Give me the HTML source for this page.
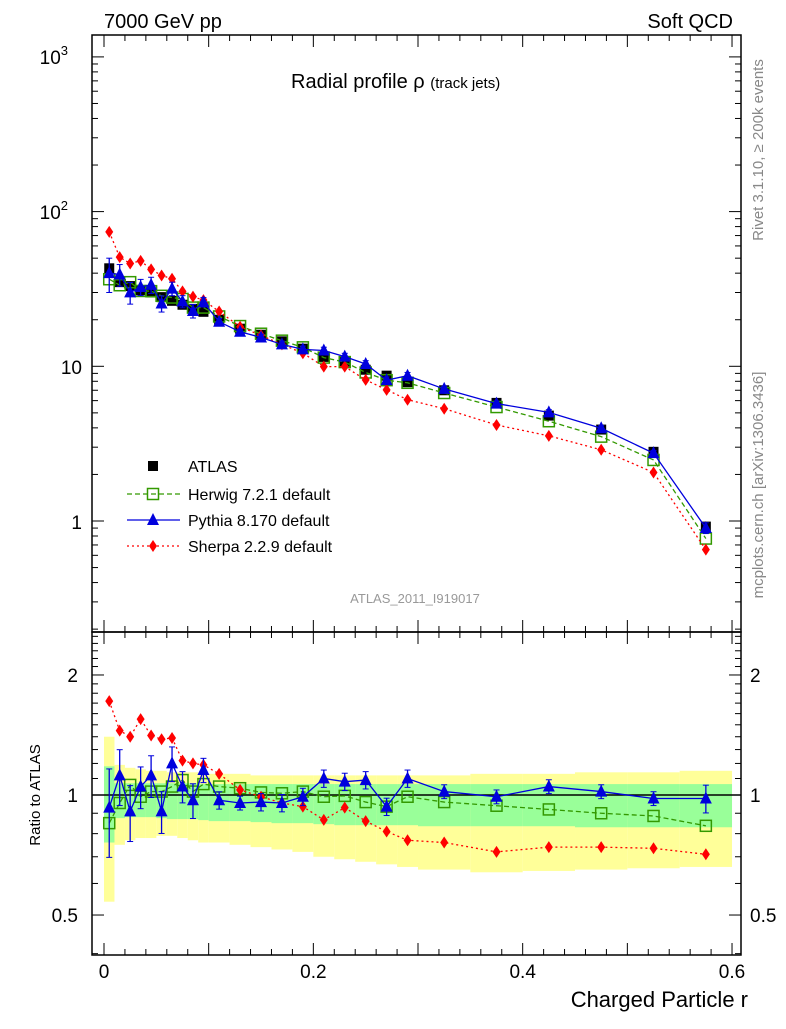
<!DOCTYPE html>
<html><head><meta charset="utf-8"><style>
body{margin:0;background:#fff}
svg text{font-family:"Liberation Sans",sans-serif}
</style></head><body>
<svg id="chart" width="786" height="1024" xmlns="http://www.w3.org/2000/svg">
<g id="bands"></g>
<g id="grid"></g>
<g id="series"></g>
<text x="104" y="28" font-size="20">7000 GeV pp</text>
<text x="733" y="28" font-size="20" text-anchor="end">Soft QCD</text>
<text x="291" y="88" font-size="20">Radial profile ρ <tspan font-size="15">(track jets)</tspan></text>
<text x="415" y="603" font-size="13" fill="#999" text-anchor="middle">ATLAS_2011_I919017</text>
<text x="748" y="1007" font-size="22" text-anchor="end">Charged Particle r</text>
<text transform="translate(40,795) rotate(-90)" font-size="15" text-anchor="middle">Ratio to ATLAS</text>
<text transform="translate(763,150) rotate(-90)" font-size="15" fill="#888" text-anchor="middle">Rivet 3.1.10, ≥ 200k events</text>
<text transform="translate(763,485) rotate(-90)" font-size="15" fill="#888" text-anchor="middle">mcplots.cern.ch [arXiv:1306.3436]</text>
<g id="legend"></g>
</svg>
<script>
const xCenters=[0.005,0.015,0.025,0.035,0.045,0.055,0.065,0.075,0.085,0.095,0.11,0.13,0.15,0.17,0.19,0.21,0.23,0.25,0.27,0.29,0.325,0.375,0.425,0.475,0.525,0.575];
const xLo=[0,0.01,0.02,0.03,0.04,0.05,0.06,0.07,0.08,0.09,0.1,0.12,0.14,0.16,0.18,0.2,0.22,0.24,0.26,0.28,0.3,0.35,0.4,0.45,0.5,0.55];
const xHi=[0.01,0.02,0.03,0.04,0.05,0.06,0.07,0.08,0.09,0.1,0.12,0.14,0.16,0.18,0.2,0.22,0.24,0.26,0.28,0.3,0.35,0.4,0.45,0.5,0.55,0.6];
const atlas=[43,35,33,31,30,28,26.5,25,23.5,22.5,20,17.5,16,14.5,13,11.5,10.7,9.5,8.7,7.9,7.0,5.8,4.8,3.9,2.8,0.92];
const herwigRatio=[0.85,0.955,1.06,0.99,1.02,1.02,1.05,1.09,1.02,1.065,1.05,1.04,1.015,1.01,1.02,0.99,0.995,0.96,0.935,0.99,0.96,0.94,0.92,0.90,0.886,0.837];
const pythiaRatio=[0.93,1.12,0.91,1.05,1.12,0.91,1.2,1.05,0.97,1.155,0.97,0.955,0.96,0.955,0.99,1.10,1.08,1.09,0.935,1.10,1.02,0.99,1.05,1.02,0.98,0.98];
const pythiaErr=[0.25,0.16,0.16,0.12,0.12,0.12,0.1,0.09,0.1,0.07,0.05,0.04,0.05,0.05,0.05,0.05,0.05,0.05,0.05,0.05,0.04,0.04,0.04,0.04,0.04,0.08];
const sherpaRatio=[1.72,1.45,1.40,1.55,1.41,1.38,1.39,1.22,1.20,1.19,1.13,1.03,0.99,0.955,0.935,0.866,0.93,0.86,0.81,0.77,0.76,0.72,0.74,0.74,0.735,0.71];
const yellowHi=[1.40,1.19,1.17,1.16,1.15,1.15,1.14,1.14,1.14,1.13,1.13,1.13,1.12,1.12,1.12,1.12,1.12,1.12,1.12,1.12,1.12,1.13,1.13,1.14,1.14,1.15];
const yellowLo=[0.54,0.75,0.77,0.78,0.78,0.79,0.79,0.78,0.77,0.76,0.76,0.75,0.74,0.73,0.72,0.70,0.69,0.68,0.67,0.66,0.65,0.64,0.645,0.65,0.655,0.66];
const greenHi=[1.18,1.07,1.07,1.07,1.07,1.07,1.07,1.07,1.07,1.065,1.065,1.065,1.065,1.065,1.065,1.065,1.065,1.065,1.065,1.065,1.065,1.065,1.065,1.065,1.065,1.065];
const greenLo=[0.76,0.875,0.88,0.88,0.88,0.875,0.87,0.87,0.87,0.865,0.86,0.86,0.855,0.85,0.85,0.845,0.84,0.84,0.84,0.84,0.835,0.835,0.835,0.83,0.83,0.83];
const xTicks=[0,0.2,0.4,0.6];

const NS="http://www.w3.org/2000/svg";
const X0=92,X1=741,MT=35,MB=632,RB=955;
const sx=v=>104+v*1046.7;
const sy=v=>521-Math.log10(v)*154.7;
const ry=v=>795-Math.log10(v)*398.7;
function mk(tag,attrs,parent){const e=document.createElementNS(NS,tag);for(const k in attrs)e.setAttribute(k,attrs[k]);parent.appendChild(e);return e;}
const bands=document.getElementById('bands'),grid=document.getElementById('grid'),ser=document.getElementById('series'),leg=document.getElementById('legend');

for(let i=0;i<xCenters.length;i++){
  let r=mk('rect',{x:sx(xLo[i]),y:ry(yellowHi[i]),width:sx(xHi[i])-sx(xLo[i]),height:ry(yellowLo[i])-ry(yellowHi[i]),fill:'#ffff99'},bands);
  
  
}
for(let i=0;i<xCenters.length;i++){
  let r=mk('rect',{x:sx(xLo[i]),y:ry(greenHi[i]),width:sx(xHi[i])-sx(xLo[i]),height:ry(greenLo[i])-ry(greenHi[i]),fill:'#99ff99'},bands);
  
  
}
mk('line',{x1:X0,x2:X1,y1:ry(1),y2:ry(1),stroke:'#000','stroke-width':1.5},grid);
// frames
mk('rect',{x:X0,y:MT,width:X1-X0,height:MB-MT,fill:'none',stroke:'#000','stroke-width':1.5},grid);
mk('rect',{x:X0,y:MB,width:X1-X0,height:RB-MB,fill:'none',stroke:'#000','stroke-width':1.5},grid);
// log ticks main
for(let d=-1;d<=3;d++){for(let m=1;m<=9;m++){const v=m*Math.pow(10,d);const y=sy(v);if(y<MT||y>MB)continue;const L=m==1?12:6;
 mk('line',{x1:X0,x2:X0+L,y1:y,y2:y,stroke:'#000'},grid);mk('line',{x1:X1-L,x2:X1,y1:y,y2:y,stroke:'#000'},grid);}}
const ml=[["10","3",57],["10","2",212],["10","",367],["1","",522]];
ml.forEach(t=>{const e=mk('text',{x:t[1]?68:82,y:t[2]+7,'font-size':19,'text-anchor':'end'},grid);e.textContent=t[0];
 
 
 if(t[1]){const s=mk('tspan',{dy:-9,'font-size':13},e);s.textContent=t[1];}});
// ratio ticks
for(let v=0.4;v<=2.55;v+=0.1){const y=ry(v);if(y<MB||y>RB)continue;const major=Math.abs(v-0.5)<1e-6||Math.abs(v-1)<1e-6||Math.abs(v-2)<1e-6;const L=major?12:6;
 mk('line',{x1:X0,x2:X0+L,y1:y,y2:y,stroke:'#000'},grid);mk('line',{x1:X1-L,x2:X1,y1:y,y2:y,stroke:'#000'},grid);}
[["2",2],["1",1],["0.5",0.5]].forEach(t=>{
 const a=mk('text',{x:78,y:ry(t[1])+7,'font-size':19,'text-anchor':'end'},grid);a.textContent=t[0];
 
 
 const b=mk('text',{x:750,y:ry(t[1])+7,'font-size':19},grid);b.textContent=t[0];
 
 });
// x ticks
for(let k=0;k<=30;k++){const v=k*0.02;const x=sx(v);if(x>X1)continue;const major=k%5==0;const L=major?12:6;
 [[MT,1],[MB,-1],[MB,1],[RB,-1]].forEach(p=>mk('line',{x1:x,x2:x,y1:p[0],y2:p[0]+p[1]*L,stroke:'#000'},grid));}
xTicks.forEach(v=>{const e=mk('text',{x:sx(v),y:978,'font-size':19,'text-anchor':'middle'},grid);e.textContent=v==0?'0':v.toFixed(1);
 
 });

function marker(kind,x,y,g,col){
 if(kind=='sq')mk('rect',{x:x-5,y:y-5,width:10,height:10,fill:'#000'},g);
 if(kind=='osq')mk('rect',{x:x-5.5,y:y-5.5,width:11,height:11,fill:'none',stroke:col,'stroke-width':1.5},g);
 if(kind=='tri')mk('polygon',{points:`${x},${y-7} ${x-6},${y+5} ${x+6},${y+5}`,fill:col},g);
 if(kind=='dia')mk('polygon',{points:`${x},${y-6} ${x+4},${y} ${x},${y+6} ${x-4},${y}`,fill:col},g);
}
function series(name,ratio,col,dash,kind,err){
 const g=mk('g',{},ser);
 
 
 const vals=ratio.map((r,i)=>r*atlas[i]);
 mk('polyline',{points:vals.map((v,i)=>sx(xCenters[i])+','+sy(v)).join(' '),fill:'none',stroke:col,'stroke-width':1.3,'stroke-dasharray':dash},g);
 mk('polyline',{points:ratio.map((v,i)=>sx(xCenters[i])+','+ry(v)).join(' '),fill:'none',stroke:col,'stroke-width':1.3,'stroke-dasharray':dash},g);
 ratio.forEach((r,i)=>{const x=sx(xCenters[i]);
  if(err){[[ry(r*(1+err[i])),ry(r*(1-err[i]))],[sy(vals[i]*(1+err[i])),sy(vals[i]*(1-err[i]))]].forEach(p=>{
   mk('line',{x1:x,x2:x,y1:p[0],y2:p[1],stroke:col,'stroke-width':1.3},g);
   mk('line',{x1:x-3,x2:x+3,y1:p[0],y2:p[0],stroke:col},g);mk('line',{x1:x-3,x2:x+3,y1:p[1],y2:p[1],stroke:col},g);});}
  marker(kind,x,ry(r),g,col);marker(kind,x,sy(vals[i]),g,col);});
}
const ag=mk('g',{},ser);


atlas.forEach((v,i)=>marker('sq',sx(xCenters[i]),sy(v),ag,'#000'));
series('herwig',herwigRatio,'#339900','5,3','osq');
series('sherpa',sherpaRatio,'#ff0000','2,3','dia');
series('pythia',pythiaRatio,'#0000dd','','tri',pythiaErr);

const L=[['ATLAS','#000','','sq',466],['Herwig 7.2.1 default','#339900','5,3','osq',494],['Pythia 8.170 default','#0000dd','','tri',520],['Sherpa 2.2.9 default','#ff0000','2,3','dia',546]];
L.forEach(l=>{const g=mk('g',{},leg);
 
 
 if(l[0]!='ATLAS')mk('line',{x1:127,x2:180,y1:l[4],y2:l[4],stroke:l[1],'stroke-width':1.3,'stroke-dasharray':l[2]},g);
 marker(l[3],153,l[4],g,l[1]);
 const t=mk('text',{x:188,y:l[4]+6,'font-size':16},g);t.textContent=l[0];});
</script>
</body></html>
